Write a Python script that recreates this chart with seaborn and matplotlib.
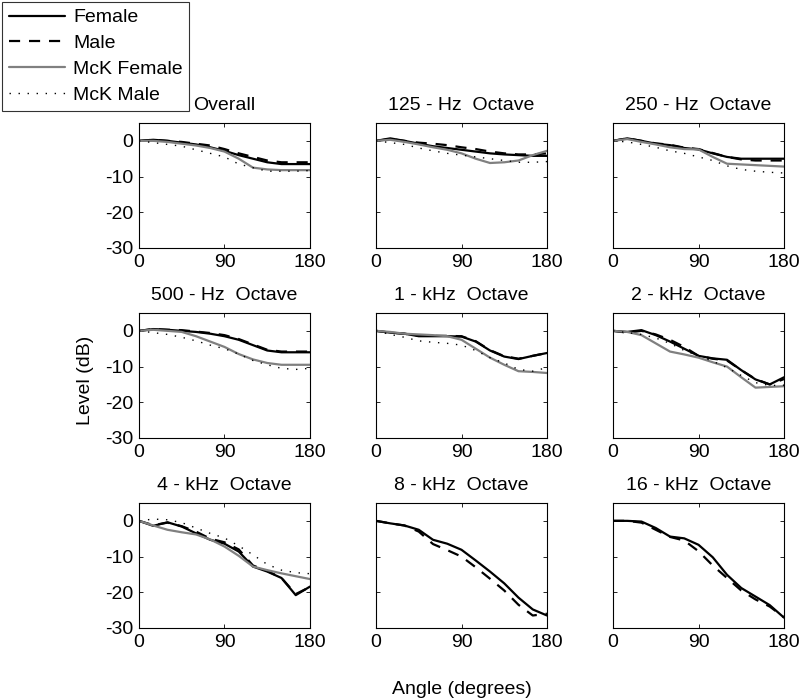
import numpy as np
import pandas as pd
import matplotlib
matplotlib.use("Agg")
import matplotlib.pyplot as plt
from matplotlib.lines import Line2D
import seaborn as sns

sns.set_theme(style="white")
plt.rcParams['font.family'] = ['Liberation Sans', 'DejaVu Sans']
plt.rcParams['axes.unicode_minus'] = False
plt.rcParams['text.color'] = 'black'
plt.rcParams['axes.labelcolor'] = 'black'
plt.rcParams['xtick.color'] = 'black'
plt.rcParams['ytick.color'] = 'black'

angles = [0, 15, 30, 45, 60, 75, 90, 105, 120, 135, 150, 165, 180]

titles = ["Overall", "125 - Hz  Octave", "250 - Hz  Octave",
          "500 - Hz  Octave", "1 - kHz  Octave", "2 - kHz  Octave",
          "4 - kHz  Octave", "8 - kHz  Octave", "16 - kHz  Octave"]

female = [
    [0, 0.3, 0, -0.5, -1, -1.8, -2.8, -4, -5, -6, -6.5, -6.5, -6.5],
    [0, 0.7, 0, -0.8, -1.5, -2, -2.5, -3, -3.5, -3.8, -4, -4.2, -4.2],
    [0, 0.7, 0, -0.8, -1.2, -2, -2.4, -3.5, -4.5, -5, -5, -5, -5],
    [0, 0.5, 0.3, 0, -0.3, -0.8, -1.5, -2.5, -4, -5.5, -6, -6, -6],
    [0, -0.5, -0.8, -1.5, -1.5, -1.5, -1.6, -3, -5.5, -7.2, -7.9, -7, -6.2],
    [0, -0.3, 0.2, -1.2, -3, -5, -7, -7.7, -8.1, -11, -13.6, -15, -13],
    [0, -1.4, -0.4, -1.6, -3.5, -5.3, -6.4, -8.6, -12.8, -14.2, -16, -20.8, -18.4],
    [0, -0.7, -1.3, -2.5, -5.3, -6.4, -8.1, -11.1, -14.2, -17.5, -21.5, -24.8, -26.5],
    [0, 0, -0.2, -2, -4.4, -4.9, -6.7, -10.2, -15.1, -18.8, -21.2, -23.6, -27.1],
]

male = [
    [0, 0.3, 0, -0.3, -0.8, -1.3, -2.3, -3.5, -4.5, -5.5, -6, -6, -6],
    [0, 0.5, 0, -0.5, -0.8, -1.2, -1.8, -2.3, -3, -3.5, -3.8, -3.8, -3.5],
    [0, 0.7, 0, -0.7, -1.1, -1.9, -2.3, -3.4, -4.5, -5.2, -5.5, -5.5, -5.5],
    [0, 0.5, 0.3, 0.2, -0.2, -0.6, -1.2, -2.3, -3.8, -5.3, -5.8, -5.8, -5.8],
    [0, -0.5, -0.8, -1.4, -1.4, -1.4, -1.5, -2.9, -5.4, -7.1, -7.8, -7, -6.2],
    [0, -0.5, 0, -1, -2.5, -4.5, -7, -7.8, -8.3, -11, -13.5, -15, -13.5],
    [0, -1.2, -0.5, -1.5, -3, -5, -6, -8, -12.5, -14, -16, -20.5, -18.5],
    [0, -0.7, -1.3, -3, -6.5, -8.2, -10, -13, -16.2, -19.5, -23.5, -26.5, -26],
    [0, 0, -0.5, -2.5, -4.5, -5.5, -8.5, -12.5, -16, -19.5, -22, -24, -27],
]

mck_female = [
    [0, 0, -0.3, -0.8, -1.3, -2, -3, -5, -7.5, -8, -8.2, -8.2, -8.2],
    [0, 0.3, -0.3, -1, -1.8, -2.5, -3.5, -5, -6.2, -6, -5.5, -4, -2.8],
    [0, 0.5, -0.3, -1, -1.8, -2.3, -2.4, -4.5, -6.4, -6.6, -6.8, -7, -7.2],
    [0, 0.3, 0, -0.3, -1.5, -3, -4.5, -6.5, -8, -9, -9.5, -9.5, -9.5],
    [0, -0.3, -0.8, -1, -1.2, -1.5, -2.5, -5, -7.5, -9.5, -11.3, -11.5, -11.8],
    [0, -0.3, -1.2, -3.5, -5.8, -6.6, -7.5, -8.8, -10, -13, -15.9, -15.7, -15.5],
    [0, -1.3, -2.5, -3.2, -3.8, -5.2, -7.2, -9.8, -12.8, -13.8, -14.7, -15.5, -16.3],
    None,
    None,
]

mck_male = [
    [0, -0.5, -1, -1.5, -2.5, -3.5, -4.5, -6.5, -7.5, -8.5, -8.5, -8.5, -8.3],
    [0, -0.5, -1, -2, -2.8, -3.5, -4, -4.5, -5, -5.5, -6, -6, -5.8],
    [0, -0.3, -1, -1.8, -2.8, -3.5, -4.5, -5.5, -7, -8, -8.5, -8.8, -9],
    [0, -0.5, -1, -1.8, -2.8, -4, -5, -6.5, -8.3, -9.5, -10.5, -10.8, -10.5],
    [0, -1, -1.8, -2.8, -3.2, -3.5, -4, -5.5, -7.5, -9, -10.8, -11.3, -10.3],
    [0, -0.5, -1, -2, -3.5, -5.5, -7, -8.5, -10.3, -12.5, -14.5, -15.3, -15.2],
    [0, 0.5, 0.3, -0.5, -2, -3.5, -4.8, -7, -9.5, -12.2, -13.8, -14.5, -14.8],
    None,
    None,
]

yticks = [0, -10, -20, -30]
xticks = [0, 90, 180]

W, H = 800, 699
fig = plt.figure(figsize=(W / 100, H / 100), dpi=100)

col_lefts = [139, 376, 613]
row_tops = [123, 313, 503]
aw, ah = 171, 125

styles = [
    ("female", dict(color="black", linewidth=1.6, linestyle="-")),
    ("male", dict(color="black", linewidth=1.6, linestyle=(0, (5, 4)))),
    ("mck_female", dict(color="#808080", linewidth=1.6, linestyle="-")),
    ("mck_male", dict(color="black", linewidth=1.0, linestyle=(0, (1, 5.5)))),
]
series_map = {"female": female, "male": male, "mck_female": mck_female, "mck_male": mck_male}

for i in range(9):
    r, c = divmod(i, 3)
    left = col_lefts[c] / W
    bottom = 1 - (row_tops[r] + ah) / H
    ax = fig.add_axes([left, bottom, aw / W, ah / H])
    for key, st in styles:
        vals = series_map[key][i]
        if vals is None:
            continue
        sns.lineplot(x=angles, y=vals, ax=ax, **st)
    ax.set_xlim(0, 180)
    ax.set_ylim(-30, 5)
    ax.set_xticks(xticks)
    ax.set_yticks(yticks)
    ax.set_xticklabels([str(t) for t in xticks], fontsize=14)
    if c == 0:
        ax.set_yticklabels([str(t) for t in yticks], fontsize=14)
    else:
        ax.set_yticklabels([])
    ax.tick_params(direction="in", length=3, width=0.6, top=True, right=True,
                   bottom=True, left=True, colors="black", pad=4)
    for sp in ax.spines.values():
        sp.set_color("black")
        sp.set_linewidth(0.8)
    ax.set_title(titles[i], fontsize=14, pad=9, color="black")
    ax.set_xlabel("")
    ax.set_ylabel("")

handles = [Line2D([], [], **st) for _, st in styles]
labels = ["Female", "Male", "McK Female", "McK Male"]
leg = fig.legend(handles, labels, loc="upper left", bbox_to_anchor=(0.0, 1.0),
                 frameon=True, fancybox=False, fontsize=14, handlelength=2.9,
                 borderaxespad=0.1, labelspacing=0.42, handletextpad=0.4,
                 borderpad=0.35)
leg.get_frame().set_edgecolor("black")
leg.get_frame().set_linewidth(0.8)
for t in leg.get_texts():
    t.set_color("black")

fig.text(85 / W, 1 - 380 / H, "Level (dB)", rotation=90, ha="center", va="center", fontsize=14, color="black")
fig.text(462 / W, 1 - 690 / H, "Angle (degrees)", ha="center", va="center", fontsize=14, color="black")

fig.savefig("out.png", dpi=100, facecolor="white")
